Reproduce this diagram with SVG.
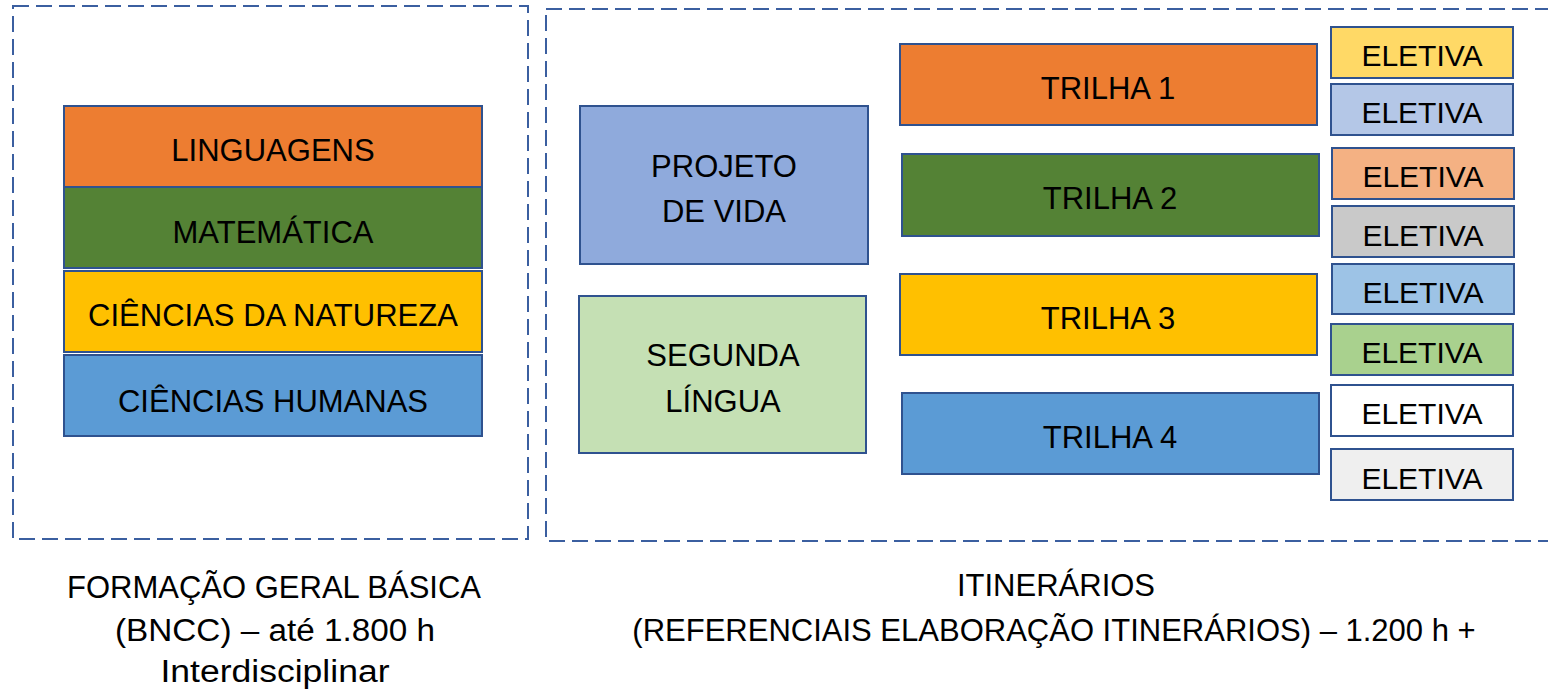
<svg xmlns="http://www.w3.org/2000/svg" width="1548" height="697" viewBox="0 0 1548 697">
<style>
  .frame { fill: none; stroke: #3B5FA0; stroke-width: 2; stroke-dasharray: 16 7; }
  .box { stroke: #2F528F; stroke-width: 2; }
  text { font-family: "Liberation Sans", Arial, sans-serif; font-size: 31px; fill: #000; text-anchor: middle; }
  .el { font-size: 30px; }
</style>
<rect width="1548" height="697" fill="#fff"/>
<g id="frames">
  <rect class="frame" x="13" y="6" width="515" height="533"/>
  <rect class="frame" x="546" y="9" width="1020" height="532"/>
</g>
<g id="connectors"></g>
<g id="linguagens"><rect class="box" x="64" y="106" width="418" height="81" fill="#ED7D31"/><text x="273" y="161">LINGUAGENS</text></g>
<g id="matematica"><rect class="box" x="64" y="187" width="418" height="81" fill="#548235"/><text x="273" y="243">MATEMÁTICA</text></g>
<g id="natureza"><rect class="box" x="64" y="271" width="418" height="81" fill="#FFC000"/><text x="273" y="326">CIÊNCIAS DA NATUREZA</text></g>
<g id="humanas"><rect class="box" x="64" y="355" width="418" height="81" fill="#5B9BD5"/><text x="273" y="412">CIÊNCIAS HUMANAS</text></g>

<g id="projeto"><rect class="box" x="580" y="106" width="288" height="158" fill="#8FAADC"/><text x="724" y="177">PROJETO</text><text x="724" y="222">DE VIDA</text></g>
<g id="segunda"><rect class="box" x="579" y="296" width="287" height="157" fill="#C5E0B4"/><text x="723" y="366">SEGUNDA</text><text x="723" y="412">LÍNGUA</text></g>

<g id="trilha1"><rect class="box" x="900" y="44" width="417" height="81" fill="#ED7D31"/><text x="1108" y="99">TRILHA 1</text></g>
<g id="trilha2"><rect class="box" x="902" y="154" width="417" height="82" fill="#548235"/><text x="1110" y="209">TRILHA 2</text></g>
<g id="trilha3"><rect class="box" x="900" y="274" width="417" height="81" fill="#FFC000"/><text x="1108" y="329">TRILHA 3</text></g>
<g id="trilha4"><rect class="box" x="902" y="393" width="417" height="81" fill="#5B9BD5"/><text x="1110" y="448">TRILHA 4</text></g>

<g id="eletiva1"><rect class="box" x="1331" y="27" width="182" height="51" fill="#FFD966"/><text class="el" x="1422" y="66">ELETIVA</text></g>
<g id="eletiva2"><rect class="box" x="1331" y="84" width="182" height="51" fill="#B4C7E7"/><text class="el" x="1422" y="123">ELETIVA</text></g>
<g id="eletiva3"><rect class="box" x="1332" y="148" width="182" height="51" fill="#F4B183"/><text class="el" x="1423" y="187">ELETIVA</text></g>
<g id="eletiva4"><rect class="box" x="1332" y="206" width="182" height="51" fill="#C9C9C9"/><text class="el" x="1423" y="246">ELETIVA</text></g>
<g id="eletiva5"><rect class="box" x="1332" y="264" width="182" height="50" fill="#9DC3E6"/><text class="el" x="1423" y="303">ELETIVA</text></g>
<g id="eletiva6"><rect class="box" x="1331" y="324" width="182" height="51" fill="#A9D18E"/><text class="el" x="1422" y="363">ELETIVA</text></g>
<g id="eletiva7"><rect class="box" x="1331" y="385" width="182" height="51" fill="#FFFFFF"/><text class="el" x="1422" y="424">ELETIVA</text></g>
<g id="eletiva8"><rect class="box" x="1331" y="449" width="182" height="51" fill="#EFEFEF"/><text class="el" x="1422" y="489">ELETIVA</text></g>

<g id="label-fgb">
  <text x="274" y="598">FORMAÇÃO GERAL BÁSICA</text>
  <text x="275" y="641" textLength="320" lengthAdjust="spacingAndGlyphs">(BNCC) – até 1.800 h</text>
  <text x="275" y="682" textLength="229" lengthAdjust="spacingAndGlyphs">Interdisciplinar</text>
</g>
<g id="label-itin">
  <text x="1056" y="596">ITINERÁRIOS</text>
  <text x="1054" y="641">(REFERENCIAIS ELABORAÇÃO ITINERÁRIOS) – 1.200 h +</text>
</g>
</svg>
